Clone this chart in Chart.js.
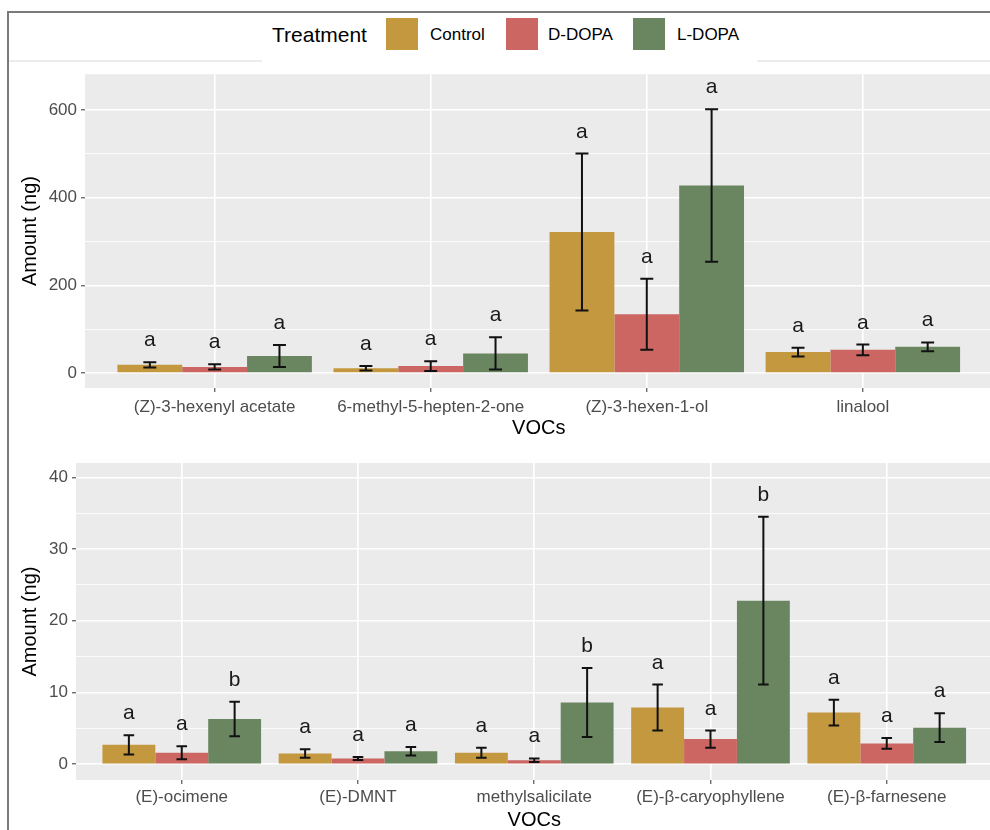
<!DOCTYPE html>
<html lang="en">
<head>
<meta charset="UTF-8">
<title>VOCs by treatment</title>
<script src="https://cdn.jsdelivr.net/npm/chart.js@4"></script>
<style>
    html, body { margin: 0; padding: 0; background: #fff; }
    body {
        width: 990px; height: 830px; position: relative; overflow: hidden;
        font-family: 'Liberation Sans', Arial, sans-serif;
    }
    .frame {
        position: absolute; left: 7px; top: 11px; width: 1000px; height: 900px;
        border-left: 2px solid #7a7a7a; border-top: 2px solid #7a7a7a;
    }
    .faint { position: absolute; top: 60px; height: 2px; background: #ececec; }
    .legend-title, .legend-label { position: absolute; line-height: 1; white-space: nowrap; }
    .legend-title { top: 24px; left: 272px; font-size: 21px; color: #000; }
    .legend-label { top: 26px; font-size: 17px; color: #000; }
    .swatch { position: absolute; top: 18px; width: 32px; height: 32px; }
    canvas { position: absolute; left: 0; }
</style>
</head>
<body>
<div class="frame"></div>
<div class="faint" style="left:9px; width:253px;"></div>
<div class="faint" style="left:757px; width:240px;"></div>

<div class="legend-title">Treatment</div>
<div class="swatch" id="sw0" style="left:386px;"></div>
<div class="legend-label" style="left:430px;">Control</div>
<div class="swatch" id="sw1" style="left:506px;"></div>
<div class="legend-label" style="left:548px;">D-DOPA</div>
<div class="swatch" id="sw2" style="left:633px;"></div>
<div class="legend-label" style="left:677px;">L-DOPA</div>

<canvas id="topChart" width="1000" height="385" style="top:60px;"></canvas>
<canvas id="bottomChart" width="1000" height="390" style="top:445px;"></canvas>

<script>
// treatments and colours
const treatments = ['Control', 'D-DOPA', 'L-DOPA'];
const treatmentColors = ['#c4983e', '#cb6662', '#6a8660'];

// upper panel
const topCompounds = ['(Z)-3-hexenyl acetate', '6-methyl-5-hepten-2-one', '(Z)-3-hexen-1-ol', 'linalool'];
const topControl = [19, 11, 322, 48];
const topControlErr = [6, 5, 179, 10];
const topDdopa = [14, 16, 134, 53];
const topDdopaErr = [6, 11, 81, 12];
const topLdopa = [39, 45, 428, 60];
const topLdopaErr = [25, 37, 174, 10];
const topControlLetters = ['a', 'a', 'a', 'a'];
const topDdopaLetters = ['a', 'a', 'a', 'a'];
const topLdopaLetters = ['a', 'a', 'a', 'a'];
const topTicks = [0, 200, 400, 600];

// lower panel
const bottomCompounds = ['(E)-ocimene', '(E)-DMNT', 'methylsalicilate', '(E)-β-caryophyllene', '(E)-β-farnesene'];
const bottomControl = [2.7, 1.5, 1.6, 7.9, 7.2];
const bottomControlErr = [1.35, 0.6, 0.7, 3.2, 1.8];
const bottomDdopa = [1.6, 0.8, 0.55, 3.5, 2.9];
const bottomDdopaErr = [0.9, 0.2, 0.25, 1.2, 0.75];
const bottomLdopa = [6.3, 1.8, 8.6, 22.8, 5.1];
const bottomLdopaErr = [2.4, 0.6, 4.8, 11.7, 2.0];
const bottomControlLetters = ['a', 'a', 'a', 'a', 'a'];
const bottomDdopaLetters = ['a', 'a', 'a', 'a', 'a'];
const bottomLdopaLetters = ['b', 'a', 'b', 'b', 'a'];
const bottomTicks = [0, 10, 20, 30, 40];

treatmentColors.forEach((c, i) => { document.getElementById('sw' + i).style.background = c; });

const FONT = "'Liberation Sans', Arial, sans-serif";

// grey panel behind the grid
const panelBg = {
    id: 'panelBg',
    beforeDraw(chart) {
        const { ctx, chartArea: a } = chart;
        ctx.save();
        ctx.fillStyle = '#ebebeb';
        ctx.fillRect(a.left, a.top, a.right - a.left, a.bottom - a.top);
        ctx.restore();
    }
};

// error bars + significance letters
const errorBars = {
    id: 'errorBars',
    afterDatasetsDraw(chart) {
        const { ctx } = chart;
        const y = chart.scales.y;
        chart.data.datasets.forEach((ds, i) => {
            const meta = chart.getDatasetMeta(i);
            meta.data.forEach((bar, j) => {
                const mean = ds.data[j].y;
                const err = ds.errors[j];
                const yHi = y.getPixelForValue(mean + err);
                const yLo = y.getPixelForValue(mean - err);
                const half = bar.width * 0.1;
                ctx.save();
                ctx.strokeStyle = '#111';
                ctx.lineWidth = 2;
                ctx.beginPath();
                ctx.moveTo(bar.x, yHi); ctx.lineTo(bar.x, yLo);
                ctx.moveTo(bar.x - half, yHi); ctx.lineTo(bar.x + half, yHi);
                ctx.moveTo(bar.x - half, yLo); ctx.lineTo(bar.x + half, yLo);
                ctx.stroke();
                ctx.fillStyle = '#1a1a1a';
                ctx.font = '21px ' + FONT;
                ctx.textAlign = 'center';
                ctx.textBaseline = 'alphabetic';
                ctx.fillText(ds.letters[j], bar.x, yHi - 16);
                ctx.restore();
            });
        });
    }
};

function makeChart(id, cats, series, errs, letters, ticks, opts) {
    const minorStep = (ticks[1] - ticks[0]) / 2;
    const yTicks = [];
    for (let v = ticks[0]; v <= ticks[ticks.length - 1] + 1e-9; v += minorStep) yTicks.push(v);

    const datasets = series.map((vals, k) => ({
        label: treatments[k],
        data: vals.map((v, i) => ({ x: i, y: v })),
        errors: errs[k],
        letters: letters[k],
        backgroundColor: treatmentColors[k],
        borderWidth: 0,
        categoryPercentage: 0.9,
        barPercentage: 1.0
    }));

    return new Chart(document.getElementById(id), {
        type: 'bar',
        data: { datasets: datasets },
        options: {
            responsive: false,
            animation: false,
            layout: { padding: { top: opts.padTop, right: 7.5, bottom: 0, left: 0 } },
            plugins: { legend: { display: false }, tooltip: { enabled: false } },
            scales: {
                x: {
                    type: 'linear',
                    offset: false,
                    min: -0.6,
                    max: cats.length - 0.4,
                    afterBuildTicks: s => { s.ticks = cats.map((_, i) => ({ value: i })); },
                    afterFit: s => { s.height = opts.xHeight; },
                    grid: {
                        offset: false, color: '#ffffff', lineWidth: 1.6,
                        drawTicks: true, tickLength: 4, tickColor: '#333', tickWidth: 1
                    },
                    border: { display: false },
                    ticks: {
                        autoSkip: false, maxRotation: 0, padding: opts.xPad,
                        color: '#4d4d4d', font: { family: FONT, size: 17 },
                        callback: v => cats[v]
                    },
                    title: {
                        display: true, text: 'VOCs', color: '#000',
                        font: { family: FONT, size: 20, lineHeight: 1.2 },
                        padding: { top: 0, bottom: opts.titlePad }
                    }
                },
                y: {
                    min: opts.yMin,
                    max: opts.yMax,
                    afterBuildTicks: s => { s.ticks = yTicks.map(v => ({ value: v })); },
                    afterFit: s => { s.width = opts.yWidth; },
                    grid: {
                        color: '#ffffff',
                        lineWidth: c => (ticks.includes(c.tick.value) ? 1.6 : 0.8),
                        drawTicks: true, tickLength: 4, tickWidth: 1,
                        tickColor: c => (ticks.includes(c.tick.value) ? '#333' : 'rgba(0,0,0,0)')
                    },
                    border: { display: false },
                    ticks: {
                        padding: 4, color: '#4d4d4d', font: { family: FONT, size: 17 },
                        callback: v => (ticks.includes(v) ? String(v) : '')
                    },
                    title: {
                        display: true, text: 'Amount (ng)', color: '#000',
                        font: { family: FONT, size: 20, lineHeight: 1.2 },
                        padding: { top: 18, bottom: 0 }
                    }
                }
            }
        },
        plugins: [panelBg, errorBars]
    });
}

makeChart('topChart', topCompounds,
    [topControl, topDdopa, topLdopa],
    [topControlErr, topDdopaErr, topLdopaErr],
    [topControlLetters, topDdopaLetters, topLdopaLetters],
    topTicks,
    { yMin: -34, yMax: 682, yWidth: 85, xHeight: 57, padTop: 13, xPad: 5, titlePad: 5 });

makeChart('bottomChart', bottomCompounds,
    [bottomControl, bottomDdopa, bottomLdopa],
    [bottomControlErr, bottomDdopaErr, bottomLdopaErr],
    [bottomControlLetters, bottomDdopaLetters, bottomLdopaLetters],
    bottomTicks,
    { yMin: -2.2, yMax: 42, yWidth: 76, xHeight: 55, padTop: 18, xPad: 3, titlePad: 3 });
</script>
</body>
</html>
